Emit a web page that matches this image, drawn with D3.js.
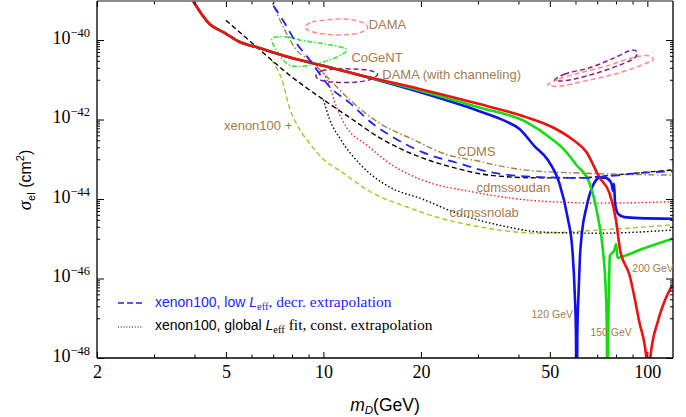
<!DOCTYPE html>
<html>
<head>
<meta charset="utf-8">
<script src="https://cdn.jsdelivr.net/npm/d3@7"></script>
<style>
    body { margin: 0; background: #ffffff; }
    svg { display: block; }
</style>
</head>
<body>
<div id="chart"></div>
<script>
// tick values
var xMajorTicks = [2, 5, 10, 20, 50, 100];
var xMinorTicks = [3, 4, 6, 7, 8, 9, 30, 40, 60, 70, 80, 90];
var yMajorExponents = [-48, -46, -44, -42, -40];
var yMinorMantissas = [1, 2, 3, 4, 5, 6, 7, 8, 9];

// thick curves, [mass GeV, sigma cm^2]
var curve120 = [[3.86, 1.35e-39], [4.46, 2.5e-40], [4.97, 1.5e-40], [5.52, 8.9e-41], [6.23, 6.6e-41],
    [7.85, 3.7e-41], [10, 2.24e-41], [12.9, 1.32e-41], [19.8, 4.9e-42], [30.3, 1.62e-42],
    [36.5, 9.1e-43], [40.3, 5.8e-43], [44.8, 2.15e-43], [49.1, 1.0e-43], [53.5, 2.5e-44],
    [56.7, 3.5e-45], [58.7, 5.2e-46], [59.7, 4e-47], [60.2, 4e-48], [60.5, 1e-50], [60.8, 4e-48],
    [61.3, 4e-47], [61.9, 3.2e-46], [62.8, 1.4e-45], [64.9, 6.3e-45], [67.6, 2.0e-44],
    [71.6, 3.5e-44], [74.4, 3.4e-44], [77.4, 2.5e-44], [78.4, 1.6e-44], [78.9, 2.4e-44],
    [79.5, 7.9e-45], [81.3, 4.2e-45], [84.9, 3.5e-45], [94.5, 3.3e-45], [119.5, 3.2e-45]];

var curve150 = [[3.86, 1.35e-39], [4.46, 2.5e-40], [4.97, 1.5e-40], [5.52, 8.9e-41], [6.23, 6.6e-41],
    [7.85, 3.7e-41], [10, 2.24e-41], [12.9, 1.32e-41], [19.8, 5.4e-42], [30.3, 2.0e-42],
    [42.2, 8.7e-43], [50.8, 3.2e-43], [55.5, 1.7e-43], [60.4, 7.2e-44], [66.3, 2.5e-44],
    [70.3, 3.7e-45], [72.9, 5.2e-46], [74.5, 4e-47], [75.0, 4e-48], [75.3, 1e-50], [75.7, 4e-48],
    [76.1, 4e-47], [76.6, 3.7e-46], [79.1, 5.2e-46], [80.1, 7.4e-46], [80.9, 3.3e-46],
    [84.9, 3.7e-46], [94.5, 5.2e-46], [119.5, 1.0e-45]];

var curve200 = [[3.86, 1.35e-39], [4.46, 2.5e-40], [4.97, 1.5e-40], [5.52, 8.9e-41], [6.23, 6.6e-41],
    [7.85, 3.7e-41], [10, 2.24e-41], [12.9, 1.32e-41], [19.8, 5.9e-42], [30.3, 2.45e-42],
    [42.2, 1.15e-42], [50.8, 6.5e-43], [58.6, 3.2e-43], [64.9, 1.5e-43], [71.1, 3.5e-44],
    [76.4, 1.4e-44], [80.0, 3.0e-45], [82.4, 5.2e-46], [88.0, 1.26e-46], [94.5, 7.9e-48],
    [99.3, 1.0e-48], [100.6, 1e-50], [102.1, 1.0e-48], [108, 8.9e-48], [113.5, 2.9e-47],
    [119.5, 6.9e-47]];

// experimental limits
var xenonLow = [[6.6, 1.5e-39], [7.5, 3.16e-40], [8.26, 8.3e-41], [9.07, 3.16e-41], [10.46, 6.6e-42],
    [12.05, 2.63e-42], [14.2, 7.8e-43], [16.4, 3.6e-43], [20.2, 1.51e-43], [25.9, 8.1e-44],
    [32.6, 4.8e-44], [46.6, 3.55e-44], [61.9, 3.4e-44], [76.9, 3.8e-44], [94.6, 4.5e-44],
    [119.5, 5.0e-44]];

var xenonDashed = [[5.0, 3.16e-40], [6.23, 6.6e-41], [7.85, 1.32e-41], [10, 3.16e-42], [12.3, 1.0e-42],
    [15.2, 3.16e-43], [19.8, 1.15e-43], [25.6, 6.0e-44], [32.4, 4.0e-44], [46.3, 3.4e-44],
    [61.9, 3.4e-44], [78.6, 4.0e-44], [119.5, 5.4e-44]];

var cdms = [[6.8, 1.35e-39], [7.6, 1.78e-40], [8.26, 5.6e-41], [9.07, 3.16e-41], [10.46, 1.0e-41],
    [12.05, 3.16e-42], [14.9, 8.1e-43], [18.9, 3.16e-43], [24.0, 1.32e-43], [30.3, 8.9e-44],
    [35, 6.8e-44], [43.3, 5.2e-44], [61.9, 4.5e-44], [119.5, 4.0e-44]];

var cdmsSoudan = [[9.9, 1.78e-41], [10.46, 6.6e-42], [10.98, 2.04e-42], [11.8, 6.3e-43], [13.6, 2.3e-43],
    [16.0, 7.9e-44], [20.2, 3.0e-44], [28.9, 1.51e-44], [46.6, 8.9e-45], [71, 7.9e-45],
    [119.5, 8.5e-45]];

var cdmsSnolab = [[10, 3.16e-42], [10.46, 1.0e-42], [11.3, 3.16e-43], [12.9, 7.9e-44], [16.0, 2.0e-44],
    [20.2, 1.0e-44], [25.6, 4.5e-45], [36.9, 2.0e-45], [46.6, 1.48e-45], [71, 1.38e-45],
    [119.5, 1.66e-45]];

var xenonPlus = [[6.9, 3.16e-41], [7.5, 8.3e-42], [7.85, 2.04e-42], [8.3, 7.2e-43], [9.07, 2.5e-43],
    [10, 1.0e-43], [11.3, 5.0e-44], [14.2, 1.41e-44], [18.1, 6.3e-45], [23.0, 3.3e-45],
    [30.3, 2.0e-45], [46.6, 1.38e-45], [71, 1.66e-45], [119.5, 2.24e-45]];

// signal regions (closed outlines)
var cogent = [[6.93, 1.07e-40], [7.71, 1.2e-40], [8.45, 1.0e-40], [11.8, 5.6e-41], [9.74, 2.63e-41],
    [7.87, 2.34e-41], [7.23, 5.0e-41]];

var damaLow = [[8.76, 2.14e-40], [9.2, 2.82e-40], [10.1, 3.16e-40], [11.2, 3.39e-40], [12.49, 3.16e-40],
    [13.5, 2.51e-40], [13.7, 2.0e-40], [12.9, 1.51e-40], [11.6, 1.35e-40], [10.1, 1.41e-40],
    [9.07, 1.7e-40]];

var damaChannel = [[9.47, 1.26e-41], [9.88, 1.66e-41], [10.8, 1.86e-41], [12.49, 1.86e-41], [14.1, 1.66e-41],
    [14.7, 1.38e-41], [14.1, 1.05e-41], [12.49, 8.7e-42], [10.8, 8.7e-42], [9.74, 1.0e-41]];

var damaHigh = [[49.2, 7.4e-42], [53.5, 1.05e-41], [61.7, 1.48e-41], [76.4, 2.34e-41], [91.2, 3.7e-41],
    [101.4, 4.0e-41], [104.4, 3.3e-41], [97.9, 2.5e-41], [79.1, 1.38e-41], [64.0, 9.3e-42],
    [53.5, 6.9e-42]];

var damaHighChannel = [[51.7, 9.8e-42], [55.5, 1.38e-41], [66.3, 2.0e-41], [79.1, 3.55e-41], [89.9, 5.6e-41],
    [93.1, 5.0e-41], [91.8, 3.7e-41], [84.9, 2.63e-41], [71.1, 1.55e-41], [59.6, 1.05e-41],
    [53.5, 9.3e-42]];

// annotations, [mass, sigma, text]
var regionLabels = [[13.8, 1.9e-40, "DAMA"], [12.2, 2.8e-41, "CoGeNT"],
    [15.2, 1.05e-41, "DAMA (with channeling)"], [4.93, 5.5e-43, "xenon100 +"],
    [25.9, 1.2e-43, "CDMS"], [29.7, 1.5e-44, "cdmssoudan"], [24.5, 3.55e-45, "cdmssnolab"]];
var massLabels = [[89.9, 1.45e-46, "200 GeV"], [43.9, 1.0e-47, "120 GeV"], [66.7, 3.5e-48, "150 GeV"]];

var drawChart = (function() {

    var width = 686, height = 417;
    var left = 97, right = 673, top = 1, bottom = 358;
    var labelColor = "#a67a4c";
    var sans = "'Liberation Sans', Arial, sans-serif";
    var serif = "'Liberation Serif', 'Times New Roman', serif";

    var x = d3.scaleLog().domain([2, 120]).range([left, right]);
    var y = d3.scaleLog().domain([1e-48, 9.6e-40]).range([bottom, top]);

    var openLine = d3.line()
        .x(function(d) { return x(d[0]); })
        .y(function(d) { return y(d[1]); })
        .curve(d3.curveMonotoneX);

    var closedLine = d3.line()
        .x(function(d) { return x(d[0]); })
        .y(function(d) { return y(d[1]); })
        .curve(d3.curveCatmullRomClosed.alpha(0.5));

    //minor y ticks, one decade under each labelled power
    function yMinorValues() {
        var vals = [];
        yMajorExponents.forEach(function(e) {
            yMinorMantissas.forEach(function(m) {
                var v = m * Math.pow(10, e - 1);
                if (v >= 1e-48 && v < 9.6e-40) vals.push(v);
            });
        });
        return vals;
    }

    //one curve
    function addCurve(group, data, color, widthPx, dash, closed) {
        group.append("path")
            .datum(data)
            .attr("d", closed ? closedLine : openLine)
            .style("fill", "none")
            .style("stroke", color)
            .style("stroke-width", widthPx)
            .style("stroke-dasharray", dash)
            .style("stroke-linejoin", "round");
    }

    //axes with inward ticks, all four sides
    function addAxes(svg) {
        var yMajor = yMajorExponents.map(function(e) { return Math.pow(10, e); });
        var yMinor = yMinorValues();

        function axisGroup(axis, tx, ty) {
            var g = svg.append("g")
                .attr("transform", "translate(" + tx + "," + ty + ")")
                .call(axis);
            g.select(".domain").remove();
            g.selectAll(".tick line").style("stroke", "#000").style("stroke-width", 1);
            return g;
        }

        //bottom
        var bx = axisGroup(d3.axisBottom(x).tickValues(xMajorTicks).tickSizeInner(-6).tickSizeOuter(0)
            .tickPadding(7).tickFormat(d3.format("d")), 0, bottom);
        bx.selectAll("text").style("font-family", serif).style("font-size", "18px").style("fill", "#000");
        axisGroup(d3.axisBottom(x).tickValues(xMinorTicks).tickSizeInner(-3.5).tickSizeOuter(0)
            .tickFormat(""), 0, bottom);

        //top
        axisGroup(d3.axisTop(x).tickValues(xMajorTicks).tickSizeInner(-6).tickSizeOuter(0).tickFormat(""), 0, top);
        axisGroup(d3.axisTop(x).tickValues(xMinorTicks).tickSizeInner(-3.5).tickSizeOuter(0).tickFormat(""), 0, top);

        //left, powers of ten written as 10 with superscript
        var ly = axisGroup(d3.axisLeft(y).tickValues(yMajor).tickSizeInner(-7).tickSizeOuter(0)
            .tickPadding(7).tickFormat(""), left, 0);
        ly.selectAll(".tick text")
            .style("font-family", serif)
            .style("fill", "#000")
            .each(function(d) {
                var t = d3.select(this);
                t.append("tspan").style("font-size", "18px").text("10");
                t.append("tspan").style("font-size", "12.5px").attr("dy", "-7")
                    .text("\u2212" + Math.round(-Math.log10(d)));
            });
        axisGroup(d3.axisLeft(y).tickValues(yMinor).tickSizeInner(-3).tickSizeOuter(0).tickFormat(""), left, 0);

        //right
        axisGroup(d3.axisRight(y).tickValues(yMajor).tickSizeInner(-7).tickSizeOuter(0).tickFormat(""), right, 0);
        axisGroup(d3.axisRight(y).tickValues(yMinor).tickSizeInner(-3).tickSizeOuter(0).tickFormat(""), right, 0);

        //frame
        svg.append("line").attr("x1", left).attr("x2", right).attr("y1", top).attr("y2", top)
            .style("stroke", "#666").style("stroke-width", 1.5);
        svg.append("line").attr("x1", left).attr("x2", right).attr("y1", bottom).attr("y2", bottom)
            .style("stroke", "#000").style("stroke-width", 1.3);
        svg.append("line").attr("x1", left).attr("x2", left).attr("y1", top).attr("y2", bottom)
            .style("stroke", "#000").style("stroke-width", 1.3);
        svg.append("line").attr("x1", right).attr("x2", right).attr("y1", top).attr("y2", bottom)
            .style("stroke", "#000").style("stroke-width", 1.3);
    }

    //axis titles
    function addTitles(svg) {
        var yt = svg.append("text")
            .attr("transform", "translate(31,180) rotate(-90)")
            .attr("text-anchor", "middle")
            .style("fill", "#000");
        yt.append("tspan").style("font-family", serif).style("font-style", "italic")
            .style("font-size", "19px").text("\u03c3");
        yt.append("tspan").style("font-family", sans).style("font-size", "11px").attr("dy", "4").text("el");
        yt.append("tspan").style("font-family", sans).style("font-size", "16px").attr("dy", "-4").text(" (cm");
        yt.append("tspan").style("font-family", sans).style("font-size", "11px").attr("dy", "-7").text("2");
        yt.append("tspan").style("font-family", sans).style("font-size", "16px").attr("dy", "7").text(")");

        var xt = svg.append("text")
            .attr("x", 385)
            .attr("y", 411)
            .attr("text-anchor", "middle")
            .style("fill", "#000")
            .style("font-family", sans);
        xt.append("tspan").style("font-style", "italic").style("font-size", "17.5px").text("m");
        xt.append("tspan").style("font-style", "italic").style("font-size", "11.5px").attr("dy", "3").text("D");
        xt.append("tspan").style("font-size", "17.5px").attr("dy", "-3").text("(GeV)");
    }

    //legend with two sample lines
    function addLegend(svg) {
        svg.append("line").attr("x1", 118).attr("x2", 143).attr("y1", 303).attr("y2", 303)
            .style("stroke", "#2222ff").style("stroke-width", 1.3).style("stroke-dasharray", "6,3");
        svg.append("line").attr("x1", 118).attr("x2", 143).attr("y1", 327).attr("y2", 327)
            .style("stroke", "#000").style("stroke-width", 1.1).style("stroke-dasharray", "1,1.8");

        function entry(yPos, color, first, after) {
            var t = svg.append("text").attr("x", 155).attr("y", yPos).style("fill", color);
            t.append("tspan").style("font-family", sans).style("font-size", "14px").text(first);
            t.append("tspan").style("font-family", sans).style("font-style", "italic")
                .style("font-size", "14px").text("L");
            t.append("tspan").style("font-family", serif).style("font-size", "10.5px").attr("dy", "2.5").text("eff");
            t.append("tspan").style("font-family", serif).style("font-size", "15.5px").attr("dy", "-2.5").text(after);
        }
        entry(307, "#2222ff", "xenon100, low ", ", decr. extrapolation");
        entry(330, "#000", "xenon100, global ", " fit, const. extrapolation");
    }

    //brown text labels
    function addLabels(svg) {
        svg.selectAll("text.region")
            .data(regionLabels)
            .enter().append("text")
            .attr("class", "region")
            .attr("x", function(d) { return x(d[0]); })
            .attr("y", function(d) { return y(d[1]); })
            .style("font-family", sans)
            .style("font-size", "13px")
            .style("fill", labelColor)
            .text(function(d) { return d[2]; });

        svg.selectAll("text.mass")
            .data(massLabels)
            .enter().append("text")
            .attr("class", "mass")
            .attr("x", function(d) { return x(d[0]); })
            .attr("y", function(d) { return y(d[1]); })
            .style("font-family", sans)
            .style("font-size", "10.5px")
            .style("fill", labelColor)
            .text(function(d) { return d[2]; });
    }

    return {
        render: function(placement) {
            d3.select(placement).html("");

            var svg = d3.select(placement).append("svg")
                .attr("width", width)
                .attr("height", height);

            svg.append("defs").append("clipPath").attr("id", "plotClip")
                .append("rect")
                .attr("x", left).attr("y", top)
                .attr("width", right - left).attr("height", bottom - top);

            var plot = svg.append("g").attr("clip-path", "url(#plotClip)");

            //regions
            addCurve(plot, damaLow, "#ff8a8a", 1.5, "5,3", true);
            addCurve(plot, damaHigh, "#ff8a8a", 1.5, "5,3", true);
            addCurve(plot, damaChannel, "#8a1a8a", 1.5, "5,3", true);
            addCurve(plot, damaHighChannel, "#8a1a8a", 1.5, "5,3", true);
            addCurve(plot, cogent, "#22ee22", 1.5, "5,2,1.5,2", true);

            //limits
            addCurve(plot, xenonPlus, "#99cc22", 1.4, "5,3", false);
            addCurve(plot, cdmsSnolab, "#000", 1.4, "1.5,2.2", false);
            addCurve(plot, cdmsSoudan, "#ff1a1a", 1.4, "1.5,2.2", false);
            addCurve(plot, xenonDashed, "#000", 1.4, "5,3", false);
            addCurve(plot, cdms, "#a67a4c", 1.4, "6,2.5,1.5,2.5", false);

            //model curves
            addCurve(plot, curve120, "#1010ee", 2.6, null, false);
            addCurve(plot, curve150, "#11dd11", 2.6, null, false);
            addCurve(plot, curve200, "#ee1111", 2.6, null, false);

            addCurve(plot, xenonLow, "#2222ff", 1.8, "9,6", false);

            addAxes(svg);
            addTitles(svg);
            addLegend(svg);
            addLabels(svg);
        }
    };
})();

drawChart.render("#chart");
</script>
</body>
</html>
